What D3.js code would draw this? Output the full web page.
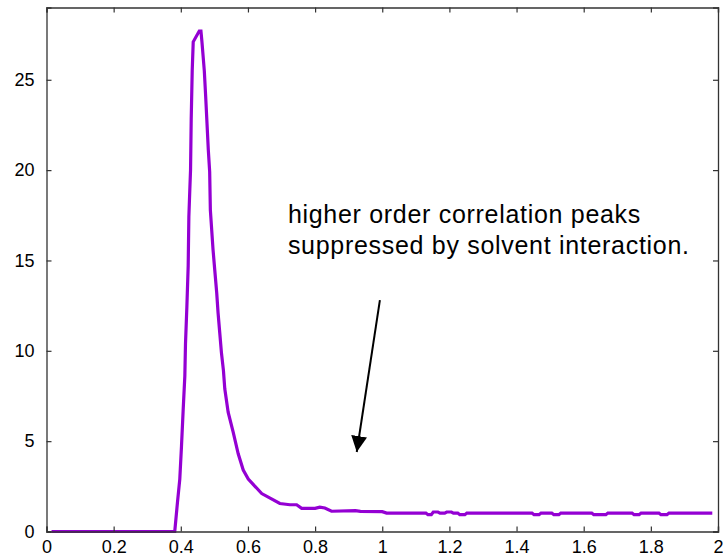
<!DOCTYPE html>
<html>
<head>
<meta charset="utf-8">
<script src="https://cdn.jsdelivr.net/npm/d3@7"></script>
<style>
  body { margin: 0; background: #fff; }
  text { font-family: "Liberation Sans", Arial, sans-serif; fill: #000; }
</style>
</head>
<body>
<div id="chart"></div>
<script>
// radial distribution values
const rX = [0.015, 0.382, 0.390, 0.397, 0.402, 0.407, 0.412, 0.414, 0.418, 0.422, 0.424, 0.427,
  0.429, 0.431, 0.434, 0.437, 0.455, 0.460, 0.463, 0.470, 0.474, 0.478, 0.482, 0.486, 0.488,
  0.492, 0.496, 0.501, 0.507, 0.511, 0.516, 0.521, 0.527, 0.531, 0.541, 0.556, 0.571, 0.586,
  0.601, 0.621, 0.641, 0.666, 0.695, 0.725, 0.745, 0.760, 0.800, 0.814, 0.829, 0.849, 0.920,
  0.935, 1.000, 1.013, 1.130, 1.136, 1.146, 1.152, 1.166, 1.172, 1.186, 1.192, 1.206, 1.212,
  1.225, 1.231, 1.246, 1.252, 1.446, 1.452, 1.467, 1.473, 1.505, 1.511, 1.526, 1.532, 1.624,
  1.630, 1.666, 1.672, 1.744, 1.750, 1.765, 1.771, 1.824, 1.830, 1.848, 1.854, 1.983];
const rY = [0, 0, 1.6, 2.9, 4.7, 6.7, 8.6, 10.4, 12.4, 14.7, 17.4, 19.0,
  20.0, 22.8, 25.5, 27.1, 27.7, 27.7, 27.1, 25.5, 24.1, 22.6, 21.1, 19.9, 17.8,
  16.7, 15.6, 14.5, 13.2, 12.1, 11.0, 9.9, 8.9, 7.9, 6.6, 5.5, 4.3, 3.4,
  2.9, 2.5, 2.1, 1.85, 1.55, 1.48, 1.48, 1.28, 1.28, 1.35, 1.30, 1.12, 1.15,
  1.11, 1.10, 1.02, 1.02, 0.93, 0.93, 1.08, 1.08, 1.02, 1.02, 1.08, 1.08, 1.02,
  1.02, 0.93, 0.93, 1.02, 1.02, 0.93, 0.93, 1.02, 1.02, 0.93, 0.93, 1.02, 1.02,
  0.93, 0.93, 1.02, 1.02, 0.93, 0.93, 1.02, 1.02, 0.93, 0.93, 1.02, 1.02];

const xTicks = [0, 0.2, 0.4, 0.6, 0.8, 1, 1.2, 1.4, 1.6, 1.8, 2];
const yTicks = [0, 5, 10, 15, 20, 25];
const noteLines = ['higher order correlation peaks', 'suppressed by solvent interaction.'];
const noteAt = [0.719, 17.1];
const arrowFrom = [0.993, 12.8];
const arrowTo = [0.924, 4.4];

const width = 723, height = 558;
const margin = { left: 46.5, right: 5, top: 7.5, bottom: 26.5 };

const x = d3.scaleLinear().domain([0, 2]).range([margin.left, width - margin.right]);
const y = d3.scaleLinear().domain([0, 29]).range([height - margin.bottom, margin.top]);

const svg = d3.select('#chart').append('svg')
  .attr('width', width)
  .attr('height', height);

const data = rX.map((d, i) => ({ x: d, y: rY[i] }));

const line = d3.line()
  .x((d) => x(d.x))
  .y((d) => y(d.y));

svg.append('path')
  .datum(data)
  .attr('d', line)
  .style('fill', 'none')
  .style('stroke', '#9400d3')
  .style('stroke-width', 3.2)
  .style('stroke-linejoin', 'miter');

// frame with mirrored inward ticks
const tick = 5;
const axes = svg.append('g')
  .style('font-size', '18px');

axes.append('g')
  .attr('transform', `translate(0,${y(0)})`)
  .call(d3.axisBottom(x).tickValues(xTicks).tickSize(-tick).tickPadding(9).tickFormat(d3.format('')));
axes.append('g')
  .attr('transform', `translate(0,${y(29)})`)
  .call(d3.axisTop(x).tickValues(xTicks).tickSize(-tick).tickFormat(''));
axes.append('g')
  .attr('transform', `translate(${x(0)},0)`)
  .call(d3.axisLeft(y).tickValues(yTicks).tickSize(-tick).tickPadding(12));
axes.append('g')
  .attr('transform', `translate(${x(2)},0)`)
  .call(d3.axisRight(y).tickValues(yTicks).tickSize(-tick).tickFormat(''));

axes.selectAll('.domain').style('stroke', '#333').style('stroke-width', 1.3);
axes.selectAll('.tick line').style('stroke', '#333').style('stroke-width', 1.2);
axes.selectAll('.tick text')
  .style('font-family', '"Liberation Sans", Arial, sans-serif')
  .style('font-size', '18px')
  .style('fill', '#000');

// annotation
svg.append('defs').append('marker')
  .attr('id', 'head')
  .attr('viewBox', '0 0 10 10')
  .attr('refX', 10).attr('refY', 5)
  .attr('markerWidth', 8).attr('markerHeight', 8)
  .attr('markerUnits', 'strokeWidth')
  .attr('orient', 'auto')
  .append('path')
  .attr('d', 'M0,0L10,5L0,10Z')
  .style('fill', '#000');

svg.append('line')
  .attr('x1', x(arrowFrom[0])).attr('y1', y(arrowFrom[1]))
  .attr('x2', x(arrowTo[0])).attr('y2', y(arrowTo[1]))
  .style('stroke', '#000')
  .style('stroke-width', 2)
  .attr('marker-end', 'url(#head)');

svg.append('g')
  .selectAll('text')
  .data(noteLines)
  .join('text')
  .attr('x', x(noteAt[0]))
  .attr('y', (d, i) => y(noteAt[1]) + i * 31)
  .style('font-size', '25px')
  .style('letter-spacing', '0.7px')
  .text((d) => d);
</script>
</body>
</html>
